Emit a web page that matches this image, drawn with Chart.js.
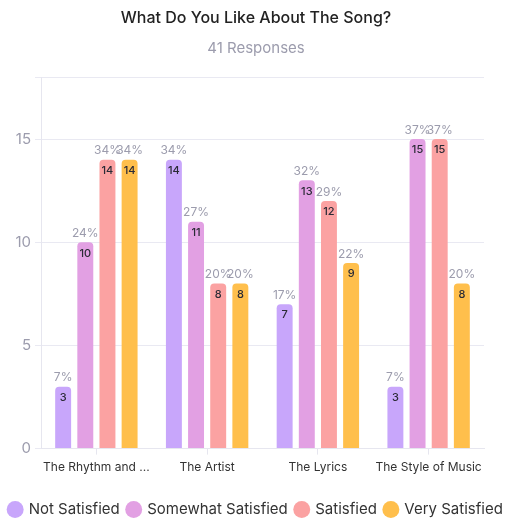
<!DOCTYPE html>
<html>
<head>
<meta charset="utf-8">
<script src="https://cdn.jsdelivr.net/npm/chart.js@4.4.0/dist/chart.umd.min.js"></script>
<style>
  html, body { margin: 0; padding: 0; background: #fff; }
  #wrap { width: 512px; height: 519px; }
</style>
</head>
<body>
<div id="wrap"><canvas id="songChart"></canvas></div>
<script>
// chart data
const categories = ["The Rhythm and ...", "The Artist", "The Lyrics", "The Style of Music"];
const seriesNames = ["Not Satisfied", "Somewhat Satisfied", "Satisfied", "Very Satisfied"];
const notSatisfied = [3, 14, 7, 3];
const somewhatSatisfied = [10, 11, 13, 15];
const satisfied = [14, 8, 12, 15];
const verySatisfied = [14, 8, 9, 8];
const totalResponses = 41;
const yTicks = [0, 5, 10, 15];

const colors = ["#c8a6fb", "#e2a0e3", "#fba2a2", "#ffbf4c"];
const FONT = "Inter, 'Noto Sans', sans-serif";

// draws the count inside each bar and the percent above it
const barLabels = {
  id: "barLabels",
  afterDatasetsDraw(chart) {
    const ctx = chart.ctx;
    ctx.save();
    ctx.textAlign = "center";
    ctx.textBaseline = "middle";
    chart.data.datasets.forEach((ds, i) => {
      chart.getDatasetMeta(i).data.forEach((bar, j) => {
        const v = ds.data[j];
        ctx.font = "500 11px " + FONT;
        ctx.fillStyle = "#2a2a35";
        ctx.fillText(v, bar.x, bar.y + 11);
        ctx.font = "12px " + FONT;
        ctx.fillStyle = "#9c9cad";
        ctx.fillText(Math.round(v / totalResponses * 100) + "%", bar.x, bar.y - 9);
      });
    });
    ctx.restore();
  }
};

new Chart(document.getElementById("songChart"), {
  type: "bar",
  data: {
    labels: categories,
    datasets: [notSatisfied, somewhatSatisfied, satisfied, verySatisfied].map((d, i) => ({
      label: seriesNames[i],
      data: d,
      backgroundColor: colors[i],
      borderRadius: { topLeft: 4, topRight: 4 },
      borderSkipped: "bottom",
      categoryPercentage: 0.8,
      barPercentage: 0.72
    }))
  },
  options: {
    responsive: true,
    maintainAspectRatio: false,
    animation: false,
    layout: { padding: { left: 0, right: 0, top: 5, bottom: -8 } },
    plugins: {
      title: {
        display: true,
        text: "What Do You Like About The Song?",
        color: "#222",
        font: { family: FONT, size: 16, weight: "500" },
        padding: { top: 4, bottom: 11 }
      },
      subtitle: {
        display: true,
        text: totalResponses + " Responses",
        color: "#9c9cad",
        font: { family: FONT, size: 15 },
        padding: { bottom: 20 }
      },
      legend: {
        position: "bottom",
        labels: {
          usePointStyle: true,
          pointStyle: "circle",
          boxWidth: 12,
          boxHeight: 12,
          padding: 8,
          color: "#333",
          font: { family: FONT, size: 15 }
        }
      },
      tooltip: { enabled: false }
    },
    scales: {
      x: {
        afterFit(axis) { axis.height += 13; },
        grid: { display: true, drawOnChartArea: false, offset: false, tickLength: 6, color: "#e6e6ef" },
        border: { color: "#e6e6ef" },
        ticks: { color: "#333", font: { family: FONT, size: 12 }, padding: 6, maxRotation: 0 }
      },
      y: {
        min: 0,
        max: 18,
        afterBuildTicks(axis) {
          axis.ticks = yTicks.concat([18]).map(v => ({ value: v }));
        },
        afterFit(axis) { axis.width = 41; },
        grid: { color: "#e9e9f2", tickLength: 6 },
        border: { color: "#e6e6ef" },
        ticks: {
          color: "#9c9cad",
          font: { family: FONT, size: 15 },
          padding: 4,
          callback: v => (yTicks.includes(v) ? v : "")
        }
      },
      // empty axis that only keeps space free on the right
      yRight: {
        position: "right",
        display: true,
        afterFit(axis) { axis.width = 28; },
        grid: { display: false },
        border: { display: false },
        ticks: { display: false }
      }
    }
  },
  plugins: [barLabels]
});
</script>
</body>
</html>
